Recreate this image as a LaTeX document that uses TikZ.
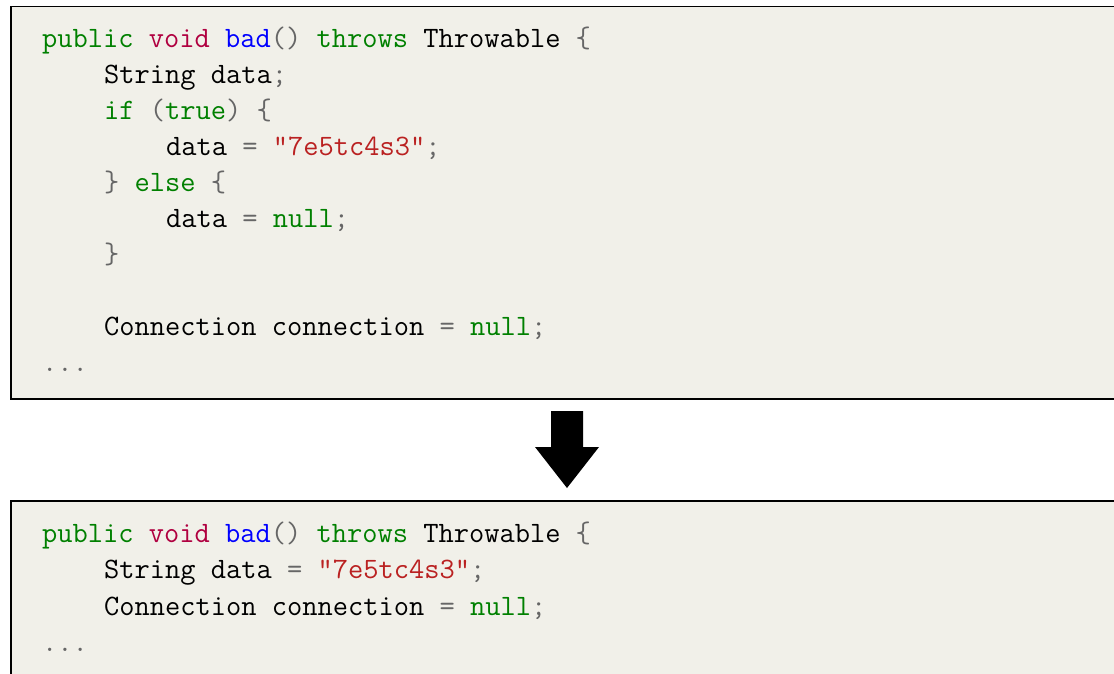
\documentclass[tikz,border=0pt]{standalone}
\usepackage{fontspec}
\definecolor{codebg}{HTML}{F1F0E9}
\definecolor{kwgreen}{HTML}{008000}
\definecolor{ktype}{HTML}{B00040}
\definecolor{fnblue}{HTML}{0000FF}
\definecolor{strred}{HTML}{BA2121}
\definecolor{punctgray}{HTML}{666666}
\newcommand{\kw}[1]{\textcolor{kwgreen}{#1}}
\newcommand{\kt}[1]{\textcolor{ktype}{#1}}
\newcommand{\fn}[1]{\textcolor{fnblue}{#1}}
\newcommand{\st}[1]{\textcolor{strred}{#1}}
\newcommand{\pu}[1]{\textcolor{punctgray}{#1}}
\begin{document}
\begin{tikzpicture}[x=1pt,y=-1pt,
  codeline/.style={anchor=base west,inner sep=0pt,font=\ttfamily\fontsize{29.6}{36}\selectfont,text=black},
  codefill/.style={fill=codebg,draw=none},
  codeedge/.style={draw=black,line width=1.1pt},
  bigarrow/.style={fill=black,draw=none}]
\useasboundingbox (0,0) rectangle (1114,673);
\clip (0,0) rectangle (1114,673);
% boxes
\fill[codefill] (11,6.5) rectangle (1130,399);
\draw[codeedge] (1130,6.5) -- (11,6.5) -- (11,399) -- (1130,399);
\fill[codefill] (11,501) rectangle (1130,690);
\draw[codeedge] (1130,501) -- (11,501) -- (11,690);
% arrow
\fill[bigarrow] (551,411) -- (583,411) -- (583,447) -- (599,447) -- (567,488) -- (535,447) -- (551,447) -- cycle;
% top code
\node[codeline] (t1) at (42,47) {\kw{public} \kt{void} \fn{bad}\pu{()} \kw{throws} Throwable \pu{\{}};
\node[codeline] (t2) at (104,83) {String data\pu{;}};
\node[codeline] (t3) at (104,119) {\kw{if} \pu{(}\kw{true}\pu{)} \pu{\{}};
\node[codeline] (t4) at (166,155) {data \pu{=} \st{"7e5tc4s3"}\pu{;}};
\node[codeline] (t5) at (104,191) {\pu{\}} \kw{else} \pu{\{}};
\node[codeline] (t6) at (166,227) {data \pu{=} \kw{null}\pu{;}};
\node[codeline] (t7) at (104,263) {\pu{\}}};
\node[codeline] (t8) at (104,335) {Connection connection \pu{=} \kw{null}\pu{;}};
\node[codeline] (t9) at (42,371) {\pu{...}};
% bottom code
\node[codeline] (b1) at (42,542) {\kw{public} \kt{void} \fn{bad}\pu{()} \kw{throws} Throwable \pu{\{}};
\node[codeline] (b2) at (104,578) {String data \pu{=} \st{"7e5tc4s3"}\pu{;}};
\node[codeline] (b3) at (104,615) {Connection connection \pu{=} \kw{null}\pu{;}};
\node[codeline] (b4) at (42,651) {\pu{...}};
\end{tikzpicture}
\end{document}
